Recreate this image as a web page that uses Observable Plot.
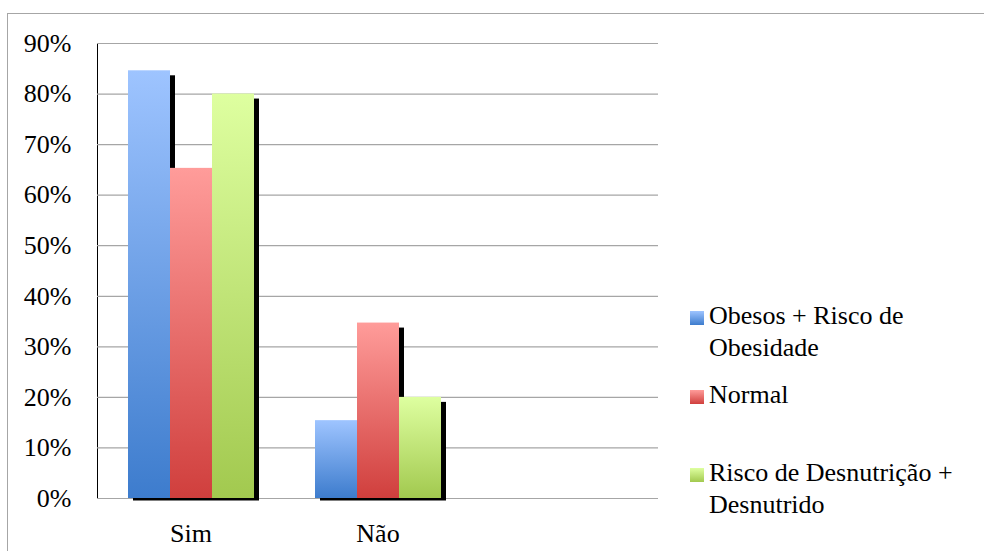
<!DOCTYPE html>
<html>
<head>
<meta charset="utf-8">
<script src="https://cdn.jsdelivr.net/npm/d3@7"></script>
<script src="https://cdn.jsdelivr.net/npm/@observablehq/plot@0.6"></script>
<style>
  html, body { margin: 0; padding: 0; background: #fff; overflow: hidden; }
  #wrap { position: relative; width: 984px; height: 551px; }
  #border { position: absolute; left: 7px; top: 13px; width: 1000px; height: 600px; border: 1px solid #a6a6a6; box-sizing: border-box; }
  #chart { position: absolute; left: 0; top: 0; }
  #legend { position: absolute; left: 690px; top: 0; font-family: "Liberation Serif", "Times New Roman", serif; font-size: 26px; line-height: 31.5px; color: #000; }
  .item { position: absolute; left: 0; white-space: nowrap; }
  .sw { position: absolute; left: 0; width: 14px; height: 14px; }
  .lt { position: absolute; left: 19px; }
</style>
</head>
<body>
<div id="wrap">
  <div id="border"></div>
  <div id="chart"></div>
  <div id="legend"></div>
</div>
<script>
// ---- data ----
const categories = ["Sim", "Não", ""];
const series = ["Obesos + Risco de Obesidade", "Normal", "Risco de Desnutrição + Desnutrido"];
const legendLines = [["Obesos + Risco de", "Obesidade"], ["Normal"], ["Risco de Desnutrição +", "Desnutrido"]];
const simValues = [0.846, 0.653, 0.80];
const naoValues = [0.154, 0.347, 0.20];
const yTicks = [0, 0.1, 0.2, 0.3, 0.4, 0.5, 0.6, 0.7, 0.8, 0.9];
const gradTop = ["#9ec4ff", "#ff9c9a", "#deffa0"];
const gradBottom = ["#3d7ccd", "#d03f3d", "#a2c94f"];
const gradIds = ["gBlue", "gRed", "gGreen"];

const data = [];
series.forEach((s, i) => {
  data.push({category: "Sim", series: s, value: simValues[i]});
  data.push({category: "Não", series: s, value: naoValues[i]});
});
// gridlines in every category panel (including the empty third one)
const grid = categories.flatMap(c => yTicks.map(t => ({category: c, tick: t})));

const font = '"Liberation Serif", "Times New Roman", serif';

const chart = Plot.plot({
  width: 984,
  height: 551,
  marginLeft: 97,
  marginRight: 326,
  marginTop: 43,
  marginBottom: 53,
  style: {fontFamily: font, fontSize: "26px", color: "#000", background: "transparent", overflow: "visible"},
  fx: {domain: categories, padding: 0, label: null, tickSize: 0, tickPadding: 25},
  x: {domain: series, paddingInner: 0, paddingOuter: 0.726, axis: null},
  y: {domain: [0, 0.9], ticks: yTicks, tickFormat: d3.format(".0%"), tickSize: 0, tickPadding: 26, label: null, line: true},
  marks: [
    Plot.ruleY(grid, {fx: "category", y: "tick", stroke: "#a6a6a6", strokeWidth: 1.2}),
    Plot.barY(data, {fx: "category", x: "series", y: "value", fill: "#000", dx: 5, dy: 5, insetBottom: 2.5}),
    ...series.map((s, i) => Plot.barY(data.filter(d => d.series === s), {fx: "category", x: "series", y: "value", fill: `url(#${gradIds[i]})`}))
  ]
});

// gradients
const ns = "http://www.w3.org/2000/svg";
const svg = chart.tagName.toLowerCase() === "svg" ? chart : chart.querySelector("svg");
const defs = document.createElementNS(ns, "defs");
gradIds.forEach((id, i) => {
  const g = document.createElementNS(ns, "linearGradient");
  g.setAttribute("id", id);
  g.setAttribute("x1", "0"); g.setAttribute("y1", "0");
  g.setAttribute("x2", "0"); g.setAttribute("y2", "1");
  [[0, gradTop[i]], [1, gradBottom[i]]].forEach(([o, c]) => {
    const st = document.createElementNS(ns, "stop");
    st.setAttribute("offset", o);
    st.setAttribute("stop-color", c);
    g.appendChild(st);
  });
  defs.appendChild(g);
});
svg.insertBefore(defs, svg.firstChild);
document.getElementById("chart").appendChild(chart);

// legend
const legend = document.getElementById("legend");
const itemTops = [300, 379, 457];
legendLines.forEach((lines, i) => {
  const item = document.createElement("div");
  item.className = "item";
  item.style.top = itemTops[i] + "px";
  const sw = document.createElement("div");
  sw.className = "sw";
  sw.style.top = "11px";
  sw.style.background = `linear-gradient(${gradTop[i]}, ${gradBottom[i]})`;
  const lt = document.createElement("div");
  lt.className = "lt";
  lt.innerHTML = lines.join("<br>");
  item.appendChild(sw);
  item.appendChild(lt);
  legend.appendChild(item);
});
</script>
</body>
</html>
